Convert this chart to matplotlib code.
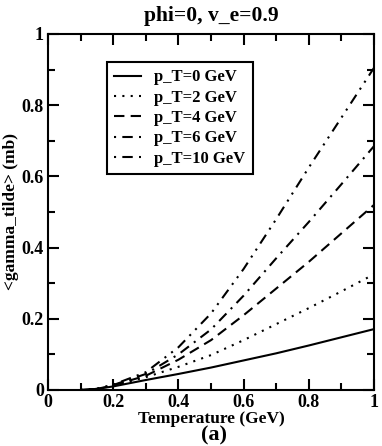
import matplotlib
matplotlib.use("Agg")
import matplotlib.pyplot as plt
from matplotlib.ticker import MultipleLocator

plt.rcParams['font.family'] = ['Liberation Serif', 'DejaVu Serif']
plt.rcParams['font.weight'] = 'bold'

# temperature (GeV)
temp = [0.1, 0.15, 0.2, 0.3, 0.4, 0.5, 0.6, 0.7, 0.8, 0.9, 1.0]

# <gamma_tilde> (mb) for each p_T
g_pt0 = [0.0, 0.003, 0.010, 0.028, 0.045, 0.063, 0.083, 0.103, 0.125, 0.148, 0.171]
g_pt2 = [0.0, 0.003, 0.012, 0.036, 0.065, 0.098, 0.140, 0.185, 0.230, 0.277, 0.325]
g_pt4 = [0.0, 0.003, 0.013, 0.040, 0.085, 0.140, 0.210, 0.285, 0.360, 0.440, 0.520]
g_pt6 = [0.0, 0.003, 0.014, 0.045, 0.100, 0.170, 0.265, 0.370, 0.472, 0.578, 0.685]
g_pt10 = [0.0, 0.003, 0.015, 0.050, 0.120, 0.215, 0.340, 0.480, 0.625, 0.765, 0.905]

labels = ["p_T=0 GeV", "p_T=2 GeV", "p_T=4 GeV", "p_T=6 GeV", "p_T=10 GeV"]
ticks = [0, 0.2, 0.4, 0.6, 0.8, 1.0]
tick_labels = ["0", "0.2", "0.4", "0.6", "0.8", "1"]

fig = plt.figure(figsize=(3.82, 4.46), dpi=100)
ax = fig.add_axes([0.1257, 0.1256, 0.8534, 0.7982])

ax.plot(temp, g_pt0, color='black', lw=1.5, ls='-', label=labels[0])
ax.plot(temp, g_pt2, color='black', lw=1.5, ls=(0, (1, 3)), label=labels[1])
ax.plot(temp, g_pt4, color='black', lw=1.5, ls=(0, (5, 3)), label=labels[2])
ax.plot(temp, g_pt6, color='black', lw=1.5, ls=(0, (1, 3, 5, 3)), label=labels[3])
ax.plot(temp, g_pt10, color='black', lw=1.5, ls=(0, (1, 3, 5, 3, 1, 3)), label=labels[4])

ax.set_xlim(0, 1)
ax.set_ylim(0, 1)
ax.set_xticks(ticks)
ax.set_xticklabels(tick_labels)
ax.set_yticks(ticks)
ax.set_yticklabels(tick_labels)
ax.xaxis.set_minor_locator(MultipleLocator(0.1))
ax.yaxis.set_minor_locator(MultipleLocator(0.1))
ax.tick_params(which='both', direction='in', top=True, right=True, width=1.5,
               labelsize=13, pad=3)
ax.tick_params(which='major', length=8)
ax.tick_params(which='minor', length=5)
for lab in ax.get_xticklabels() + ax.get_yticklabels():
    lab.set_fontweight('bold')
for s in ax.spines.values():
    s.set_linewidth(1.5)

ax.set_title("phi=0, v_e=0.9", fontsize=15.5, fontweight='bold', pad=9)
ax.set_ylabel("<gamma_tilde> (mb)", fontsize=12.5, fontweight='bold', labelpad=2)
ax.set_xlabel("Temperature (GeV)", fontsize=12.5, fontweight='bold', labelpad=0)
fig.text(0.5605, 0.012, "(a)", fontsize=16, fontweight='bold', ha='center')

leg = ax.legend(loc='upper left', bbox_to_anchor=(0.155, 0.945),
                handlelength=1.6, handletextpad=0.8, labelspacing=0.26,
                borderpad=0.45, fancybox=False, framealpha=1, edgecolor='black',
                prop={'weight': 'bold', 'size': 12})
leg.get_frame().set_linewidth(1.5)

fig.savefig("out.png", dpi=100)
